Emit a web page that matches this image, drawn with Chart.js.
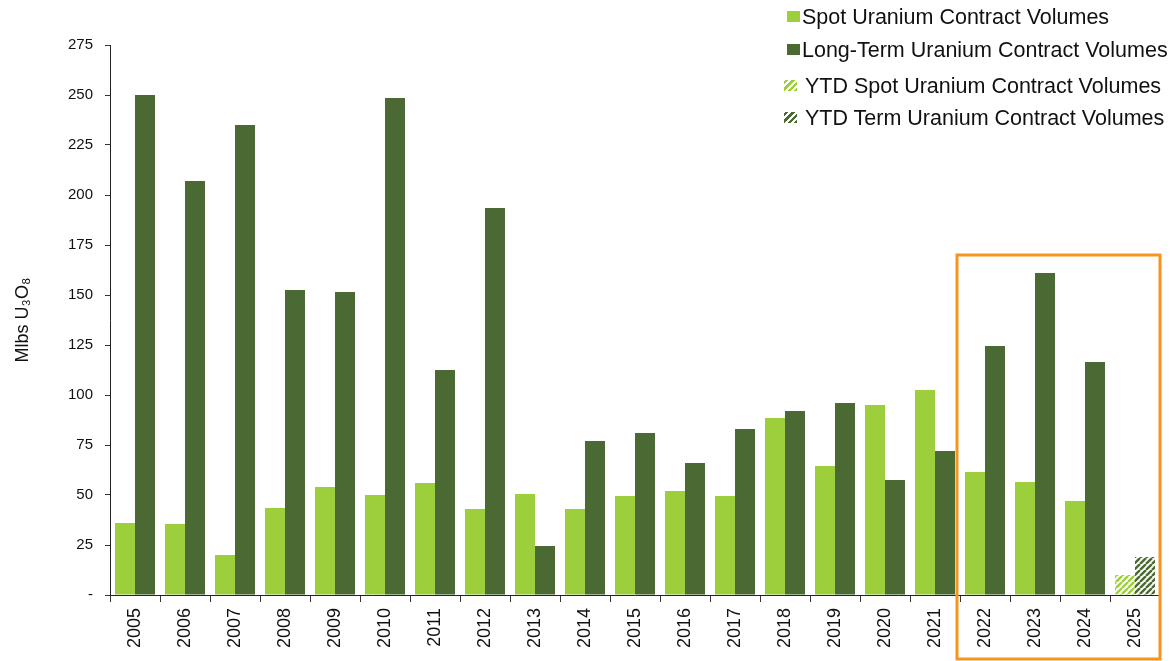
<!DOCTYPE html>
<html>
<head>
<meta charset="utf-8">
<script src="https://cdn.jsdelivr.net/npm/chart.js@4/dist/chart.umd.min.js"></script>
<style>
  body { margin: 0; background: #fff; }
  #wrap { position: relative; width: 1170px; height: 661px; }
  #legenda { position: absolute; left: 0; top: 0; font-family: "Liberation Sans", Arial, sans-serif; font-size: 21.5px; color: #111; }
  .item { position: absolute; white-space: nowrap; line-height: 24px; }
  .sw { position: absolute; width: 13px; height: 11px; }
</style>
</head>
<body>
<div id="wrap">
  <canvas id="graf" width="1170" height="661"></canvas>
  <div id="legenda"></div>
</div>
<script>
// Dados
const anos = ['2005','2006','2007','2008','2009','2010','2011','2012','2013','2014','2015',
              '2016','2017','2018','2019','2020','2021','2022','2023','2024','2025']
const spot = [36, 35.5, 20, 43.5, 54, 50, 56, 43, 50.5, 43, 49.5, 52, 49.5, 88.5, 64.5, 95, 102.5, 61.5, 56.5, 47, null]
const longo = [250, 207, 235, 152.5, 151.5, 248.5, 112.5, 193.5, 24.5, 77, 81, 66, 83, 92, 96, 57.5, 72, 124.5, 161, 116.5, null]
const ytdSpot = [null, null, null, null, null, null, null, null, null, null, null, null, null, null, null, null, null, null, null, null, 10]
const ytdLongo = [null, null, null, null, null, null, null, null, null, null, null, null, null, null, null, null, null, null, null, null, 19]
const yTicks = [0, 25, 50, 75, 100, 125, 150, 175, 200, 225, 250, 275]

const verdeClaro = '#9ccf3b'
const verdeEscuro = '#4b6a33'
const laranja = '#f7941d'

// padrão listrado (YTD)
function hachura(cor) {
    const c = document.createElement('canvas')
    c.width = 6; c.height = 6
    const g = c.getContext('2d')
    g.fillStyle = '#fff'
    g.fillRect(0, 0, 6, 6)
    g.strokeStyle = cor
    g.lineWidth = 2.4
    g.beginPath()
    for (let k = -6; k <= 12; k += 6) {
        g.moveTo(k, 6); g.lineTo(k + 6, 0)
    }
    g.stroke()
    return g.createPattern(c, 'repeat')
}

const ctx = document.getElementById('graf').getContext('2d')

// caixa laranja em volta de 2022-2025
const caixa = {
    id: 'caixa',
    afterDraw(chart) {
        const x = chart.scales.x, y = chart.scales.y
        const meio = (x.getPixelForValue(1) - x.getPixelForValue(0)) / 2
        const esq = x.getPixelForValue(anos.indexOf('2022')) - meio - 3
        const dir = chart.chartArea.right
        const topo = y.getPixelForValue(170)
        const base = chart.height - 2
        const c = chart.ctx
        c.save()
        c.strokeStyle = laranja
        c.lineWidth = 3
        c.strokeRect(esq, topo, dir - esq, base - topo)
        c.restore()
    }
}

const grafico = new Chart(ctx, {
    type: 'bar',
    data: {
        labels: anos,
        datasets: [
            { label: 'Spot Uranium Contract Volumes', data: spot, backgroundColor: verdeClaro, stack: 's' },
            { label: 'Long-Term Uranium Contract Volumes', data: longo, backgroundColor: verdeEscuro, stack: 'l' },
            { label: 'YTD Spot Uranium Contract Volumes', data: ytdSpot, backgroundColor: hachura(verdeClaro), stack: 's' },
            { label: 'YTD Term Uranium Contract Volumes', data: ytdLongo, backgroundColor: hachura(verdeEscuro), stack: 'l' }
        ]
    },
    options: {
        responsive: false,
        animation: false,
        categoryPercentage: 0.8,
        barPercentage: 1.0,
        layout: { padding: { top: 45, right: 10, left: 0, bottom: 0 } },
        plugins: {
            legend: { display: false },
            tooltip: { enabled: false }
        },
        scales: {
            x: {
                stacked: true,
                grid: { drawOnChartArea: false, offset: true, tickLength: 7, color: '#333' },
                border: { color: '#222' },
                ticks: {
                    color: '#111',
                    minRotation: 90, maxRotation: 90,
                    padding: 6,
                    font: { size: 18, family: 'Liberation Sans' }
                },
                afterFit: s => { s.height = 66 }
            },
            y: {
                stacked: true,
                min: 0, max: 275,
                afterBuildTicks: s => { s.ticks = yTicks.map(v => ({ value: v })) },
                grid: { drawOnChartArea: false, tickLength: 5, color: '#333' },
                border: { color: '#222' },
                ticks: {
                    color: '#111',
                    padding: 12,
                    font: { size: 15, family: 'Liberation Sans' },
                    callback: v => v === 0 ? '-' : v
                },
                title: {
                    display: true,
                    text: 'Mlbs U₃O₈',
                    color: '#111',
                    padding: { top: 12, bottom: 0 },
                    font: { size: 18, family: 'Liberation Sans' }
                },
                afterFit: s => { s.width = 110 }
            }
        }
    },
    plugins: [caixa]
})

// legenda em HTML
const itens = [
    { txt: 'Spot Uranium Contract Volumes', cor: verdeClaro, y: 17, sx: 787, tx: 802 },
    { txt: 'Long-Term Uranium Contract Volumes', cor: verdeEscuro, y: 50, sx: 787, tx: 802 },
    { txt: 'YTD Spot Uranium Contract Volumes', cor: verdeClaro, y: 86, sx: 784, tx: 805, listra: true },
    { txt: 'YTD Term Uranium Contract Volumes', cor: verdeEscuro, y: 118, sx: 784, tx: 805, listra: true }
]
const leg = document.getElementById('legenda')
itens.forEach(it => {
    const sw = document.createElement('div')
    sw.className = 'sw'
    sw.style.left = it.sx + 'px'
    sw.style.top = (it.y - 6) + 'px'
    sw.style.background = it.listra
        ? `repeating-linear-gradient(-45deg, ${it.cor} 0 2.5px, #fff 2.5px 4.5px)`
        : it.cor
    leg.appendChild(sw)
    const t = document.createElement('div')
    t.className = 'item'
    t.style.left = it.tx + 'px'
    t.style.top = (it.y - 12) + 'px'
    t.textContent = it.txt
    leg.appendChild(t)
})
</script>
</body>
</html>
